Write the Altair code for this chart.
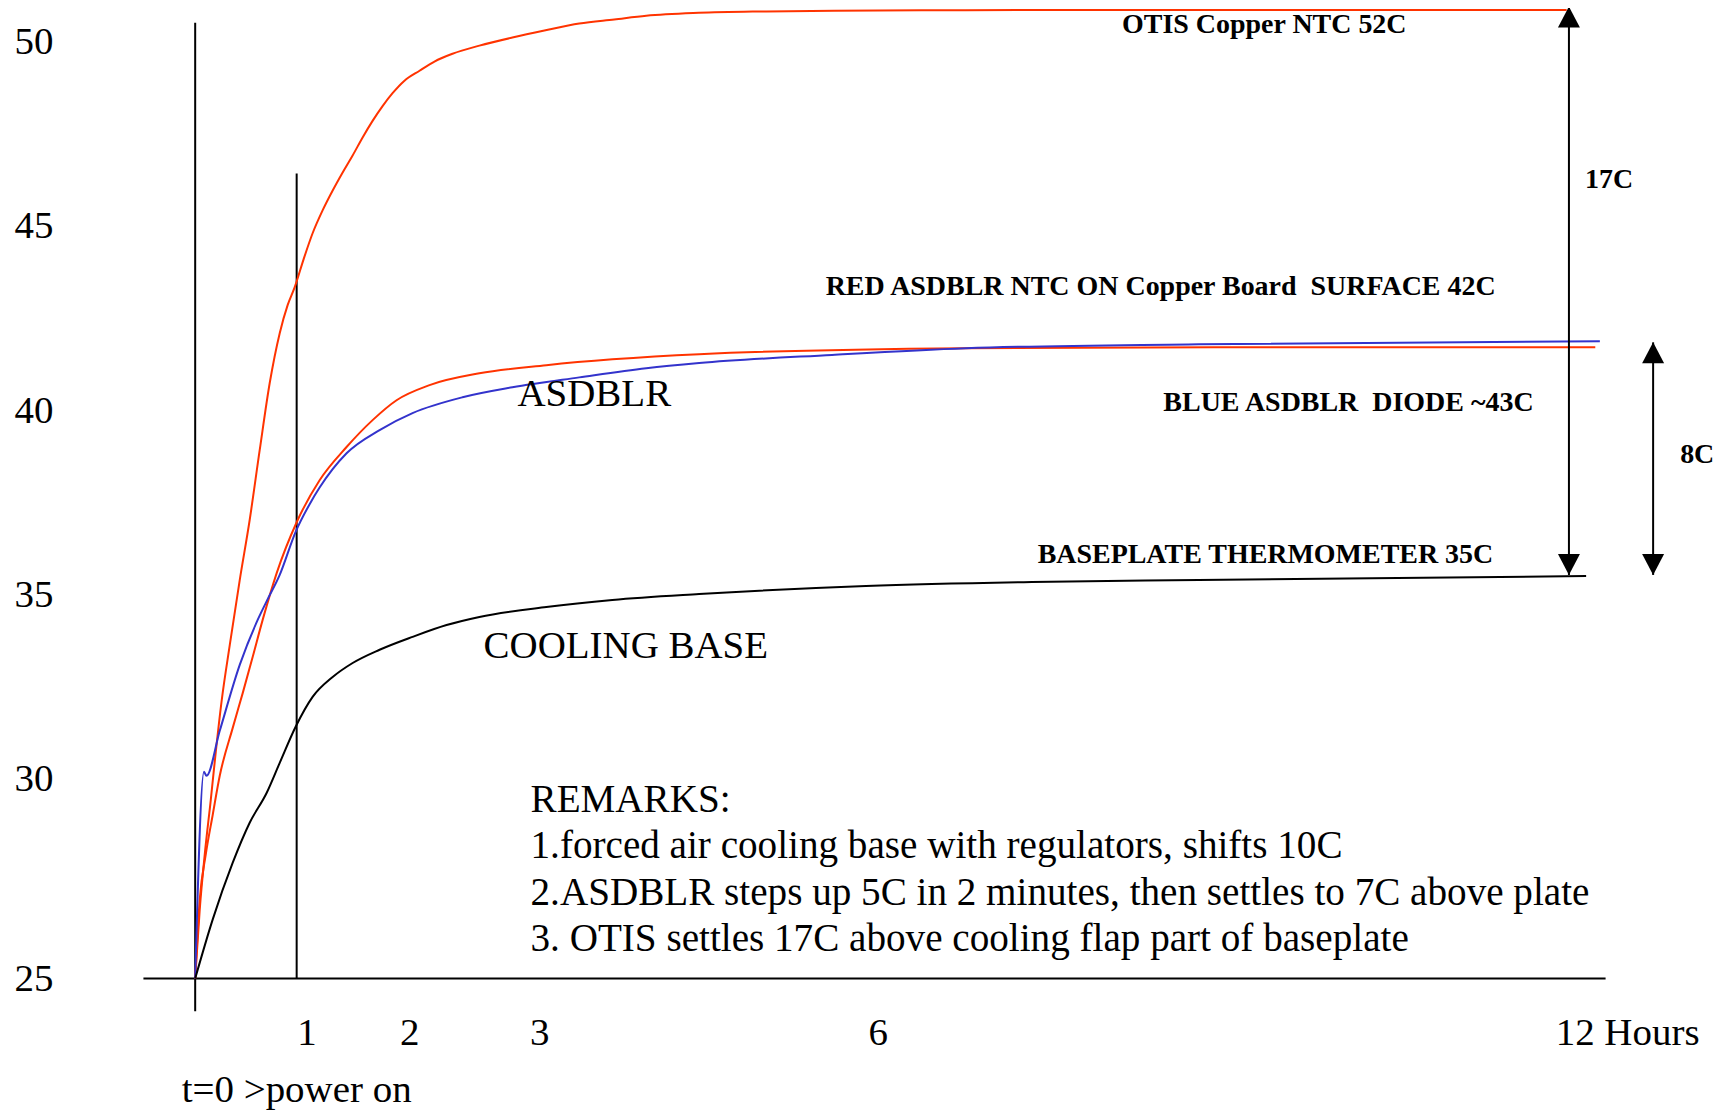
import altair as alt
import pandas as pd

# ---------------- data ----------------
# tick labels
X_TICKS = [1, 2, 3, 6, 12]
Y_TICKS = [25, 30, 35, 40, 45, 50]

# OTIS copper NTC (red, top)
OTIS_T = [0, 0.045, 0.094, 0.154, 0.203, 0.262, 0.341, 0.439, 0.537, 0.636, 0.734, 0.833,
          0.911, 0.98, 1.068, 1.155, 1.252, 1.35, 1.447, 1.544, 1.641, 1.738, 1.835, 1.932,
          2.038, 2.154, 2.269, 2.408, 2.615, 2.869, 3.133, 3.442, 3.752, 4.035, 4.5, 5.1,
          5.7, 6.85, 8.0, 9.76, 12.1]
OTIS_C = [25.0, 26.73, 28.1, 29.48, 30.73, 32.14, 33.63, 35.39, 37.02, 38.92, 40.73, 42.09,
          42.85, 43.33, 44.1, 44.8, 45.42, 45.96, 46.45, 46.91, 47.4, 47.85, 48.25, 48.6,
          48.94, 49.21, 49.46, 49.67, 49.89, 50.11, 50.30, 50.49, 50.60, 50.70, 50.78, 50.82,
          50.84, 50.85, 50.86, 50.86, 50.86]

# red ASDBLR NTC on copper board surface
RED_T = [0, 0.045, 0.104, 0.173, 0.242, 0.370, 0.469, 0.567, 0.665, 0.803, 1.0, 1.223,
         1.485, 1.738, 1.971, 2.231, 2.615, 3.15, 3.735, 4.504, 6.855, 9.06, 12.35]
RED_C = [25.0, 26.98, 28.1, 29.1, 30.08, 31.38, 32.33, 33.31, 34.31, 35.58, 36.96, 38.10,
         39.0, 39.73, 40.27, 40.68, 41.0, 41.22, 41.38, 41.52, 41.68, 41.71, 41.71]

# blue ASDBLR diode
BLUE_T = [0, 0.087, 0.111, 0.242, 0.439, 0.606, 0.705, 0.833, 0.99, 1.126, 1.223,
          1.485, 1.806, 2.1, 2.485, 2.869, 3.442, 4.035, 4.504, 5.681, 6.855, 8.887, 12.39]
BLUE_C = [25.0, 30.19, 30.08, 31.30, 33.09, 34.25, 34.82, 35.53, 36.7, 37.45, 37.9,
          38.83, 39.46, 39.92, 40.35, 40.62, 40.89, 41.14, 41.28, 41.5, 41.68, 41.79, 41.87]

# cooling base / baseplate thermometer (black)
BASE_T = [0, 0.173, 0.370, 0.537, 0.705, 0.833, 0.99, 1.155, 1.350, 1.544, 1.806, 2.1,
          2.362, 2.615, 3.15, 3.735, 4.504, 5.982, 7.43, 8.887, 12.27]
BASE_C = [25.0, 26.48, 27.9, 28.9, 29.65, 30.43, 31.41, 32.22, 32.76, 33.14, 33.50, 33.85,
          34.17, 34.39, 34.66, 34.85, 35.01, 35.23, 35.34, 35.39, 35.50]

# drawn axis lines and the t=1 marker (data units)
LINE_T = [0, -0.51, 1]
LINE_T2 = [0, 12.44, 1]
LINE_C = [24.18, 25, 25]
LINE_C2 = [50.51, 25, 46.42]

# difference arrows (17C and 8C)
ARROW_T = [12.12, 12.855]
ARROW_TOP = [50.95, 41.84]
ARROW_BOT = [35.53, 35.53]

# bold annotations
BOLD_TEXT = ["OTIS Copper NTC 52C", "RED ASDBLR NTC ON Copper Board\u00a0 SURFACE 42C",
             "BLUE ASDBLR\u00a0 DIODE ~43C", "BASEPLATE THERMOMETER 35C", "17C", "8C"]
BOLD_T = [9.46, 8.555, 10.195, 9.47, 12.47, 13.24]
BOLD_C = [50.24, 43.12, 39.97, 35.85, 46.02, 38.56]

# plain annotations
PLAIN_TEXT = ["ASDBLR", "COOLING BASE", "t=0 >power on"]
PLAIN_T = [3.575, 3.854, 1.0]
PLAIN_C = [40.11, 33.28, 21.9]

REMARKS = ["REMARKS:",
           "1.forced air cooling base with regulators, shifts 10C",
           "2.ASDBLR steps up 5C in 2 minutes, then settles to 7C above plate",
           "3. OTIS settles 17C above cooling flap part of baseplate"]
REMARKS_T = [3.01]
REMARKS_C = [29.18]

# ---------------- hand-drawn (non-uniform) axis scales ----------------
X_BREAKS = [0, 1, 2, 3, 6, 12]
X_RANGE = [132.4, 234, 337, 467, 806, 1494]
Y_BREAKS = [25, 30, 50]
Y_RANGE = [971, 771, 33]

FONT = "Liberation Serif"
RED = "#FF3300"
BLUE = "#3333CC"

xs = alt.Scale(domain=X_BREAKS, range=X_RANGE, nice=False, zero=False)
ys = alt.Scale(domain=Y_BREAKS, range=Y_RANGE, nice=False, zero=False)

X_AX = alt.Axis(values=X_TICKS, title=None, domain=False, ticks=False, tickSize=0, grid=False,
                labelFont=FONT, labelFontSize=39, labelColor="black", labelAlign="left",
                labelBaseline="top", labelPadding=35, labelFlush=False, labelOverlap=False,
                labelBound=False, labelExpr="datum.value == 12 ? '12 Hours' : datum.label")
Y_AX = alt.Axis(values=Y_TICKS, title=None, domain=False, ticks=False, tickSize=0, grid=False,
                labelFont=FONT, labelFontSize=39, labelColor="black", labelAlign="right",
                labelBaseline="middle", labelPadding=10, labelFlush=False, labelOverlap=False,
                labelBound=False)


def X(f="t"):
    return alt.X(f + ":Q", scale=xs, axis=X_AX)


def Y(f="c"):
    return alt.Y(f + ":Q", scale=ys, axis=Y_AX)


def curve(t, c, color):
    df = pd.DataFrame({"t": t, "c": c})
    return alt.Chart(df).mark_line(color=color, strokeWidth=2, interpolate="monotone").encode(
        x=X(), y=Y())


lines_df = pd.DataFrame({"t": LINE_T, "t2": LINE_T2, "c": LINE_C, "c2": LINE_C2})
axis_lines = alt.Chart(lines_df).mark_rule(color="black", strokeWidth=2).encode(
    x=X(), x2="t2:Q", y=Y(), y2="c2:Q")

arrow_df = pd.DataFrame({"t": ARROW_T, "c": ARROW_TOP, "c2": ARROW_BOT})
arrow_shafts = alt.Chart(arrow_df).mark_rule(color="black", strokeWidth=2).encode(
    x=X(), y=Y(), y2="c2:Q")
arrow_up = alt.Chart(arrow_df).mark_point(
    shape="M0,0L1,1.9L-1,1.9Z", filled=True, size=484, color="black", opacity=1, strokeWidth=0
).encode(x=X(), y=Y())
arrow_down = alt.Chart(arrow_df).mark_point(
    shape="M0,0L1,-1.9L-1,-1.9Z", filled=True, size=484, color="black", opacity=1, strokeWidth=0
).encode(x=X(), y=Y("c2"))

bold_df = pd.DataFrame({"t": BOLD_T, "c": BOLD_C, "label": BOLD_TEXT})
bold_text = alt.Chart(bold_df).mark_text(
    font=FONT, fontSize=28, fontWeight="bold", color="black", align="center", baseline="alphabetic"
).encode(x=X(), y=Y(), text="label:N")

plain_df = pd.DataFrame({"t": PLAIN_T, "c": PLAIN_C, "label": PLAIN_TEXT})
plain_text = alt.Chart(plain_df).mark_text(
    font=FONT, fontSize=39, color="black", align="center", baseline="alphabetic"
).encode(x=X(), y=Y(), text="label:N")

rem_df = pd.DataFrame({"t": REMARKS_T, "c": REMARKS_C, "label": ["\n".join(REMARKS)]})
remarks_text = alt.Chart(rem_df).mark_text(
    font=FONT, fontSize=39.2, color="black", align="left", baseline="alphabetic",
    lineBreak="\n", lineHeight=46.7
).encode(x=X(), y=Y(), text="label:N")

chart = alt.layer(
    axis_lines,
    curve(OTIS_T, OTIS_C, RED),
    curve(RED_T, RED_C, RED),
    curve(BLUE_T, BLUE_C, BLUE),
    curve(BASE_T, BASE_C, "black"),
    arrow_shafts, arrow_up, arrow_down,
    bold_text, plain_text, remarks_text,
).properties(
    width=1662, height=971,
    autosize=alt.AutoSizeParams(type="none"),
    padding={"left": 55, "top": 0, "right": 0, "bottom": 133},
    background="white",
).configure_view(stroke=None)

chart.save("out.html", embed_options={"renderer": "svg", "actions": False})
